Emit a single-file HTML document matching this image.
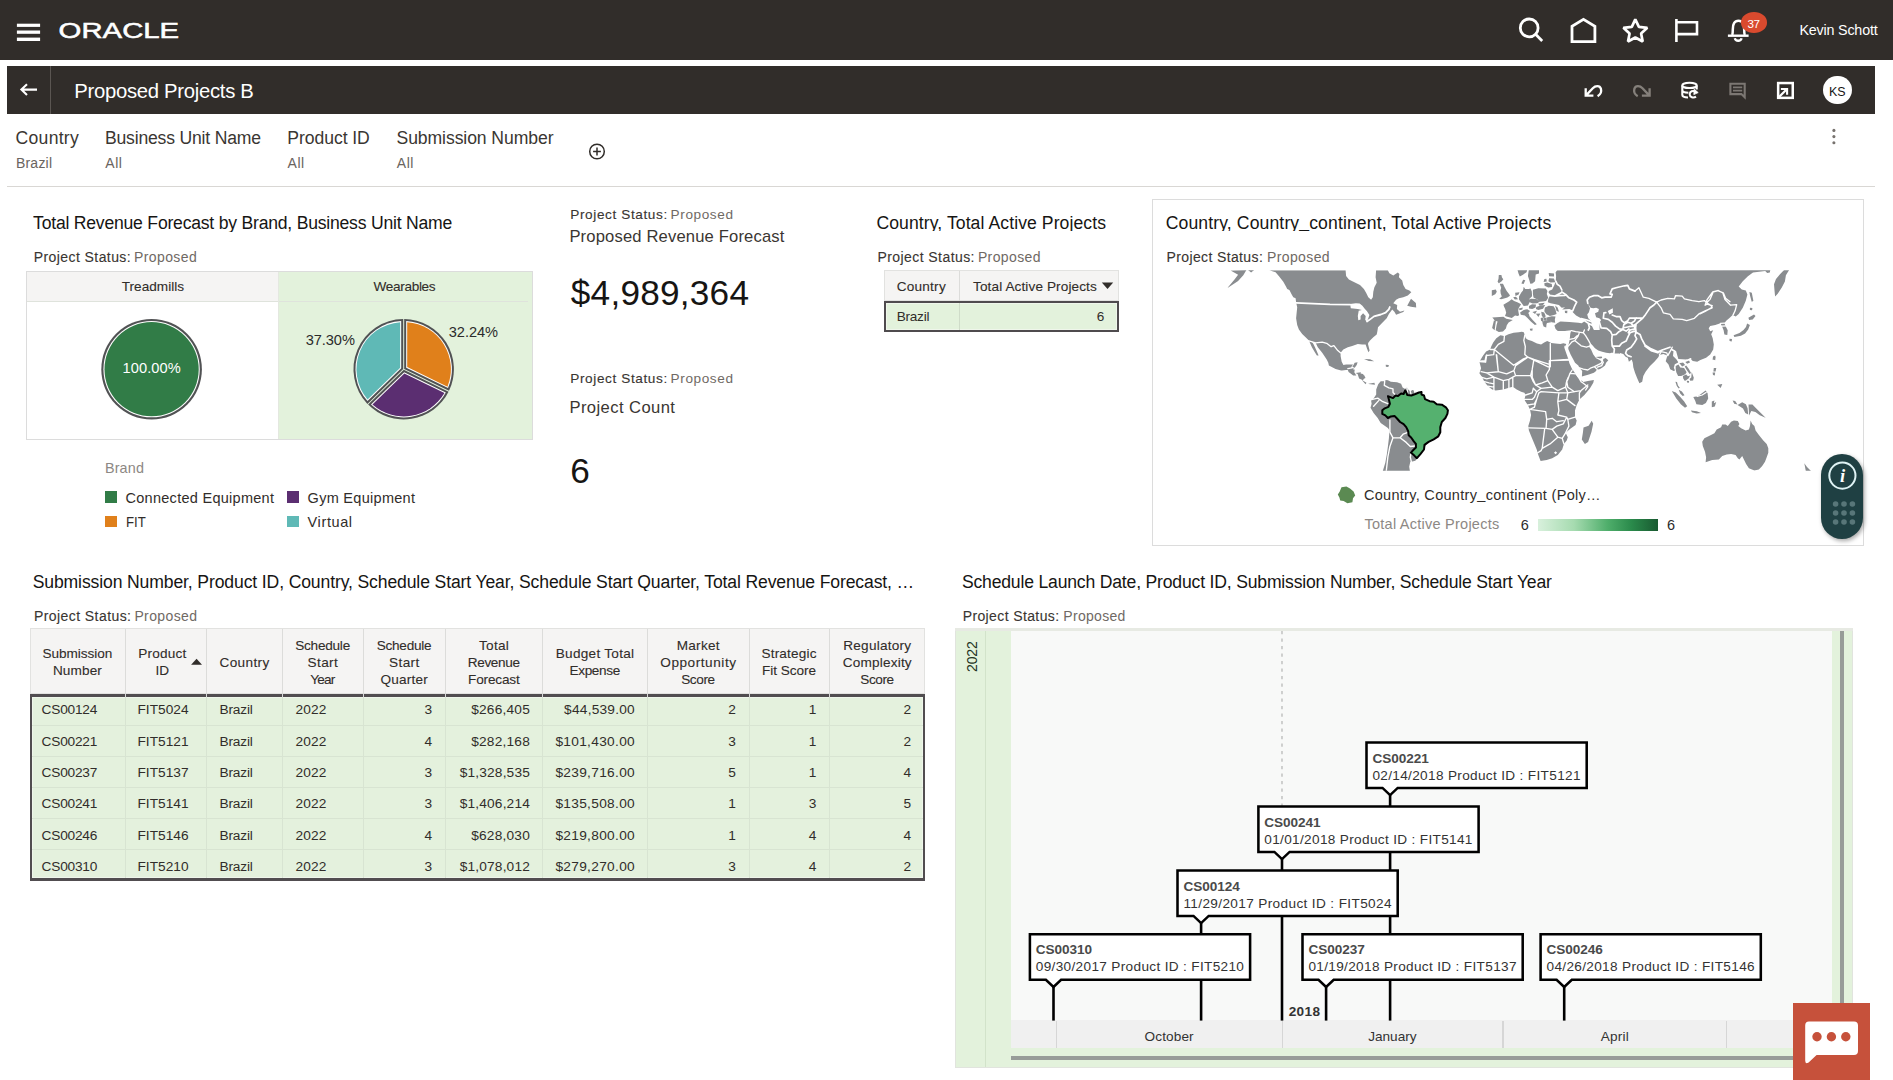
<!DOCTYPE html>
<html lang="en"><head><meta charset="utf-8"><title>Proposed Projects B</title>
<style>
html,body{margin:0;padding:0}body{width:1893px;height:1080px;position:relative;overflow:hidden;background:#fff;font-family:"Liberation Sans", sans-serif;}
body>div,body>svg,body>span{position:absolute;display:block}
span.t{white-space:nowrap;line-height:normal;}
</style></head>
<body>
<div class="topbar" style="left:0px;top:0px;width:1893px;height:59.5px;background:#312d2a;"></div>
<svg style="left:16px;top:22px" width="26" height="22" viewBox="16 22 26 22"><g fill="#fff"><rect x="16.9" y="23.7" width="23.2" height="3.2"/><rect x="16.9" y="30.5" width="23.2" height="3.3"/><rect x="16.9" y="37.6" width="23.2" height="3.4"/></g></svg>
<svg style="left:55px;top:18px" width="130" height="26" viewBox="55 18 130 26"><text x="58.6" y="38.1" font-family='"Liberation Sans",sans-serif' font-size="21.2" font-weight="400" fill="#fff" stroke="#fff" stroke-width="0.5" textLength="120.6" lengthAdjust="spacingAndGlyphs">ORACLE</text></svg>
<svg style="left:1510px;top:8px" width="270" height="44" viewBox="1510 8 270 44" fill="none" stroke="#fff" stroke-width="2.8"><circle cx="1529.2" cy="27.9" r="8.9"/><path d="M1535.6 34.3 L1542.2 40.9" stroke-linecap="butt"/><path d="M1572 41.7 V26.4 L1583.45 19.3 L1594.9 26.4 V41.7 Z" stroke-linejoin="miter"/><polygon points="1635.3,19.4 1638.9,26.8 1647.3,27.8 1641.1,33.4 1642.7,41.5 1635.3,37.5 1628.0,41.5 1629.6,33.4 1623.4,27.8 1631.8,26.8" stroke-linejoin="bevel" stroke-width="2.7"/><path d="M1676.4 18.9 V42 M1676.4 22.3 H1697 V34.1 H1676.4" stroke-width="2.6"/><path d="M1727.9 35.7 H1748.6" stroke-width="2.4"/><path d="M1732.2 35 C1733.6 31 1731.8 26.4 1734 23.2 C1736 20 1741 20 1743 23.2 C1745.2 26.4 1743.4 31 1744.8 35" stroke-width="2.5"/><path d="M1734.8 38.2 C1735.6 41.6 1740.8 41.6 1741.6 38.2" stroke-width="2.3"/></svg>
<div class="badge" style="left:1740.9px;top:12.4px;width:26.3px;height:20.8px;background:#d94a2e;border-radius:50%;"></div>
<span class="t" style="font-size:11.6px;color:#fff;letter-spacing:-0.506px;left:1747.60px;top:17.00px;">37</span>
<span class="t" style="font-size:14.3px;color:#fff;letter-spacing:-0.180px;left:1799.40px;top:21.90px;">Kevin Schott</span>
<div class="bar2" style="left:7px;top:66px;width:1868px;height:47.7px;background:#312d2a;"></div>
<div style="left:50px;top:66px;width:1px;height:47.7px;background:#5b5652;"></div>
<svg style="left:18px;top:80px" width="22" height="20" viewBox="18 80 22 20" fill="none" stroke="#fff" stroke-width="2.1"><path d="M21.6 89.6 H37 M27 84.2 L21.4 89.6 L27 95"/></svg>
<span class="t" style="font-size:20.3px;color:#fff;letter-spacing:-0.294px;left:74.30px;top:79.60px;">Proposed Projects B</span>
<svg style="left:1575px;top:72px" width="230" height="36" viewBox="1575 72 230 36" fill="none" stroke="#fff" stroke-width="2.3"><path d="M1585.7 88.3 V95.7 H1593.4 M1586.3 95.1 L1592.8 88.2 C1595.4 85.4 1599.8 85.2 1600.9 88.6 C1601.7 91.6 1600.4 94.6 1597.6 96.2"/><path stroke="#85807b" d="M1649.6 88.3 V95.7 H1641.9 M1649 95.1 L1642.5 88.2 C1639.9 85.4 1635.5 85.2 1634.4 88.6 C1633.6 91.6 1634.9 94.6 1637.7 96.2"/><g stroke-width="2.1"><ellipse cx="1689.5" cy="85.4" rx="7.2" ry="2.6"/><path d="M1682.3 85.4 V94.8 C1682.3 96.6 1685 97.5 1688 97.5 M1696.7 85.4 V89.6 M1682.3 90 C1682.3 91.8 1685 92.7 1688.4 92.7"/><path d="M1696 96.6 C1693.4 98.6 1689.7 97 1689.7 94.2 C1689.7 91.4 1693 90 1695.4 91.6" stroke-width="2"/><path d="M1694.2 89.2 L1698.2 92.6 L1693.8 94.6 Z" fill="#fff" stroke-width="0.8"/></g><g stroke="#7c7773" stroke-width="2.1"><path d="M1730.4 83.8 H1744.7 V97.2 L1741.4 94.1 H1730.4 Z"/><path d="M1733 87.3 H1742.2 M1733 90.6 H1742.2" stroke-width="1.7"/></g><rect x="1778.15" y="83.05" width="14.6" height="14.8" stroke-width="2.5"/><path d="M1779 97 L1787 89" stroke-width="2.3"/><path d="M1780.9 88.95 H1787.1 V94.8" stroke-width="2.1"/></svg>
<div class="avatar" style="left:1823.2px;top:76px;width:28.4px;height:28.4px;background:#fff;border-radius:50%;"></div>
<span class="t" style="font-size:13.7px;color:#161513;left:1829.00px;top:83.50px;transform:scaleX(0.9088);transform-origin:0 0;">KS</span>
<span class="t" style="font-size:17.6px;color:#3a3632;letter-spacing:0.265px;left:15.60px;top:127.70px;">Country</span>
<span class="t" style="font-size:14px;color:#6a6460;letter-spacing:0.237px;left:15.90px;top:154.50px;">Brazil</span>
<span class="t" style="font-size:17.6px;color:#3a3632;letter-spacing:-0.199px;left:105.00px;top:127.70px;">Business Unit Name</span>
<span class="t" style="font-size:14px;color:#6a6460;letter-spacing:0.519px;left:105.30px;top:154.50px;">All</span>
<span class="t" style="font-size:17.6px;color:#3a3632;letter-spacing:-0.069px;left:287.30px;top:127.70px;">Product ID</span>
<span class="t" style="font-size:14px;color:#6a6460;letter-spacing:0.519px;left:287.60px;top:154.50px;">All</span>
<span class="t" style="font-size:17.6px;color:#3a3632;letter-spacing:-0.088px;left:396.50px;top:127.70px;">Submission Number</span>
<span class="t" style="font-size:14px;color:#6a6460;letter-spacing:0.519px;left:396.80px;top:154.50px;">All</span>
<svg style="left:587px;top:141px" width="20" height="20" viewBox="587 141 20 20" fill="none" stroke="#312d2a" stroke-width="1.5"><circle cx="597" cy="151.5" r="7.3"/><path d="M597 147.6 V155.4 M593.1 151.5 H600.9"/></svg>
<svg style="left:1830px;top:126px" width="8" height="22" viewBox="1830 126 8 22" fill="#77726e"><circle cx="1833.9" cy="130.4" r="1.55"/><circle cx="1833.9" cy="136.6" r="1.55"/><circle cx="1833.9" cy="142.8" r="1.55"/></svg>
<div style="left:7px;top:186px;width:1868px;height:1px;background:#d9d7d4;"></div>
<span class="t" style="font-size:17.6px;color:#161513;letter-spacing:-0.222px;left:33.10px;top:213.00px;overflow:hidden;height:18.80px;">Total Revenue Forecast by Brand, Business Unit Name</span>
<span class="t" style="font-size:14px;color:#3a3632;letter-spacing:0.425px;left:33.70px;top:249.00px;-webkit-text-stroke:0.12px #3a3632;">Project Status:</span>
<span class="t" style="font-size:14px;color:#6f6964;letter-spacing:0.380px;left:134.10px;top:249.00px;">Proposed</span>
<div style="left:26.3px;top:270.5px;width:506.5px;height:169px;background:#fff;border:1px solid #dcdcdc;box-sizing:border-box;"></div>
<div style="left:27.3px;top:271.5px;width:250.7px;height:29.5px;background:#f5f4f3;"></div>
<div style="left:278px;top:271.5px;width:253.8px;height:167px;background:#e3f2dc;"></div>
<div style="left:27.3px;top:301px;width:500.5px;height:1px;background:#dfe3dc;"></div>
<div style="left:278px;top:271.5px;width:1px;height:167px;background:#e4e8e0;"></div>
<span class="t" style="font-size:13.6px;color:#312d2a;letter-spacing:0.024px;left:121.70px;top:278.90px;-webkit-text-stroke:0.1px #312d2a;">Treadmills</span>
<span class="t" style="font-size:13.6px;color:#312d2a;letter-spacing:-0.342px;left:373.60px;top:278.90px;-webkit-text-stroke:0.1px #312d2a;">Wearables</span>
<svg style="left:90px;top:310px" width="380" height="120" viewBox="90 310 380 120"><circle cx="151.6" cy="369.2" r="50.3" fill="#515254"/><circle cx="151.6" cy="369.2" r="48.15" fill="#fff"/><circle cx="151.6" cy="369.2" r="47.1" fill="#317c47"/><path d="M404.20 368.89 L404.20 319.00 A50.20 50.20 0 0 1 449.01 390.80 Z" fill="#515254"/><path d="M406.20 367.64 L406.20 321.06 A48.20 48.20 0 0 1 448.04 388.10 Z" fill="#fff"/><path d="M407.20 367.02 L407.20 322.13 A47.20 47.20 0 0 1 447.52 386.73 Z" fill="#e0801b"/><path d="M403.80 369.80 L448.57 391.70 A50.20 50.20 0 0 1 368.11 404.60 Z" fill="#515254"/><path d="M404.18 372.22 L445.84 392.59 A48.20 48.20 0 0 1 370.98 404.60 Z" fill="#fff"/><path d="M404.38 373.43 L444.45 393.02 A47.20 47.20 0 0 1 372.44 404.57 Z" fill="#5b2e71"/><path d="M403.20 368.99 L367.41 403.89 A50.20 50.20 0 0 1 403.20 319.00 Z" fill="#515254"/><path d="M401.20 368.15 L367.49 401.02 A48.20 48.20 0 0 1 401.20 321.06 Z" fill="#fff"/><path d="M400.20 367.72 L367.56 399.56 A47.20 47.20 0 0 1 400.20 322.13 Z" fill="#5fb9b6"/></svg>
<span class="t" style="font-size:14.6px;color:#fff;letter-spacing:0.096px;left:122.50px;top:360.00px;">100.00%</span>
<span class="t" style="font-size:14.6px;color:#2b2b2b;letter-spacing:-0.060px;left:305.70px;top:332.00px;">37.30%</span>
<span class="t" style="font-size:14.6px;color:#2b2b2b;letter-spacing:-0.060px;left:448.80px;top:324.00px;">32.24%</span>
<span class="t" style="font-size:14.4px;color:#8d8884;letter-spacing:0.148px;left:104.90px;top:460.40px;">Brand</span>
<div style="left:104.9px;top:491.4px;width:12px;height:11.8px;background:#317c47;"></div>
<span class="t" style="font-size:14.5px;color:#312d2a;letter-spacing:0.278px;left:125.50px;top:490.20px;">Connected Equipment</span>
<div style="left:287px;top:491.4px;width:12px;height:11.8px;background:#5b2e71;"></div>
<span class="t" style="font-size:14.5px;color:#312d2a;letter-spacing:0.286px;left:307.60px;top:490.20px;">Gym Equipment</span>
<div style="left:104.9px;top:515.6px;width:12px;height:11.8px;background:#e0801b;"></div>
<span class="t" style="font-size:14.5px;color:#312d2a;left:125.50px;top:514.40px;transform:scaleX(0.9103);transform-origin:0 0;">FIT</span>
<div style="left:287px;top:515.6px;width:12px;height:11.8px;background:#5fb9b6;"></div>
<span class="t" style="font-size:14.5px;color:#312d2a;letter-spacing:0.609px;left:307.60px;top:514.40px;">Virtual</span>
<span class="t" style="font-size:13.6px;color:#3a3632;letter-spacing:0.607px;left:570.30px;top:206.90px;-webkit-text-stroke:0.12px #3a3632;">Project Status:</span>
<span class="t" style="font-size:13.6px;color:#6f6964;letter-spacing:0.600px;left:670.60px;top:206.90px;">Proposed</span>
<span class="t" style="font-size:16.6px;color:#3a3632;letter-spacing:0.157px;left:569.40px;top:226.70px;">Proposed Revenue Forecast</span>
<span class="t" style="font-size:35.2px;color:#161513;letter-spacing:0.232px;left:570.80px;top:273.00px;">$4,989,364</span>
<span class="t" style="font-size:13.6px;color:#3a3632;letter-spacing:0.607px;left:570.30px;top:370.80px;-webkit-text-stroke:0.12px #3a3632;">Project Status:</span>
<span class="t" style="font-size:13.6px;color:#6f6964;letter-spacing:0.600px;left:670.60px;top:370.80px;">Proposed</span>
<span class="t" style="font-size:16.6px;color:#3a3632;letter-spacing:0.421px;left:569.40px;top:397.50px;">Project Count</span>
<span class="t" style="font-size:35.2px;color:#161513;left:570.30px;top:451.30px;">6</span>
<span class="t" style="font-size:17.6px;color:#161513;letter-spacing:0.083px;left:876.40px;top:212.50px;overflow:hidden;height:18.80px;">Country, Total Active Projects</span>
<span class="t" style="font-size:14px;color:#3a3632;letter-spacing:0.425px;left:877.50px;top:248.80px;-webkit-text-stroke:0.12px #3a3632;">Project Status:</span>
<span class="t" style="font-size:14px;color:#6f6964;letter-spacing:0.380px;left:977.90px;top:248.80px;">Proposed</span>
<div style="left:883.5px;top:270.4px;width:235px;height:31px;background:#f5f4f3;border:1px solid #e2e2e0;box-sizing:border-box;"></div>
<div style="left:959px;top:271px;width:1px;height:30px;background:#dcdcda;"></div>
<span class="t" style="font-size:13.6px;color:#312d2a;letter-spacing:0.232px;left:896.70px;top:278.60px;-webkit-text-stroke:0.1px #312d2a;">Country</span>
<span class="t" style="font-size:13.6px;color:#312d2a;letter-spacing:0.108px;left:973.00px;top:278.60px;-webkit-text-stroke:0.1px #312d2a;">Total Active Projects</span>
<svg style="left:1100px;top:280px" width="16" height="12" viewBox="1100 280 16 12"><path d="M1101.8 282.4 H1113.2 L1107.5 289 Z" fill="#312d2a"/></svg>
<div style="left:883.6px;top:301.2px;width:235px;height:30.6px;background:#e3f2dc;border:2px solid #4f4b4e;box-sizing:border-box;box-shadow:inset 0 0 0 1px #eff6eb;"></div>
<div style="left:958.6px;top:303.2px;width:1px;height:26.6px;background:#cfdcc9;"></div>
<span class="t" style="font-size:13.6px;color:#312d2a;letter-spacing:-0.240px;left:896.70px;top:308.50px;">Brazil</span>
<span class="t" style="font-size:13.6px;color:#312d2a;left:1096.64px;top:308.50px;">6</span>
<div class="mapcard" style="left:1152px;top:199px;width:712px;height:347px;background:#fff;border:1px solid #dcdcdc;box-sizing:border-box;"></div>
<span class="t" style="font-size:17.6px;color:#161513;letter-spacing:0.119px;left:1165.70px;top:212.70px;overflow:hidden;height:18.80px;">Country, Country<span style="position:relative;top:-1.7px">_</span>continent, Total Active Projects</span>
<span class="t" style="font-size:14px;color:#3a3632;letter-spacing:0.368px;left:1166.60px;top:248.80px;-webkit-text-stroke:0.12px #3a3632;">Project Status:</span>
<span class="t" style="font-size:14px;color:#6f6964;letter-spacing:0.380px;left:1267.00px;top:248.80px;">Proposed</span>
<svg class="map" style="left:1220px;top:270px" width="600" height="202" viewBox="1220 270 600 202"><defs><clipPath id="mc"><rect x="1222" y="270.2" width="596" height="200.6"/></clipPath></defs><g clip-path="url(#mc)">
<path d="M1248.0 270.0 L1251.1 272.5 L1254.2 270.0Z M1517.5 269.9 L1518.5 273.5 L1519.8 276.4 L1523.0 274.8 L1526.5 272.2 L1527.2 269.9Z M1243.3 275.3 L1246.4 270.0 L1230.6 270.5 L1238.1 274.8 L1234.5 279.5 L1227.8 287.6 L1227.9 287.8 L1238.1 280.9Z M1501.4 274.9 L1498.8 274.9 L1498.5 278.8 L1497.6 281.7 L1498.8 283.3 L1501.4 281.4 L1503.3 279.2 L1502.0 277.6Z M1525.3 280.3 L1523.1 279.8 L1521.4 283.6 L1523.6 284.1Z M1501.1 299.3 L1504.0 298.4 L1507.4 297.6 L1510.0 295.7 L1509.2 294.2 L1506.7 290.9 L1504.5 287.0 L1503.0 283.8 L1499.7 283.8 L1501.2 287.8 L1500.4 290.5 L1500.7 293.4 L1501.8 296.5 L1499.2 298.8Z M1495.3 294.2 L1496.8 291.7 L1495.8 289.6 L1491.8 290.2 L1491.8 295.9Z M1519.5 292.3 L1515.1 292.7 L1515.5 295.9 L1518.6 294.5Z M1521.9 303.6 L1523.7 306.0 L1528.0 305.4 L1529.7 302.1 L1529.7 302.3 L1532.7 303.5 L1537.4 303.2 L1539.5 301.7 L1539.6 301.8 L1542.8 301.5 L1546.1 300.9 L1548.2 297.8 L1546.8 293.9 L1547.4 291.0 L1545.8 288.5 L1538.3 288.2 L1532.9 289.7 L1532.9 293.9 L1533.5 297.5 L1537.0 299.2 L1539.1 301.3 L1536.3 299.1 L1531.0 298.8 L1529.4 299.4 L1529.3 299.0 L1532.1 296.3 L1531.8 291.6 L1530.5 288.4 L1528.8 289.0 L1525.2 289.0 L1523.7 286.8 L1523.0 290.4 L1521.3 292.6 L1519.0 296.6 L1519.0 299.6 L1520.8 301.9Z M1516.0 296.8 L1513.2 297.2 L1514.8 299.6 L1518.0 299.2Z M1416.2 307.5 L1415.9 303.1 L1411.0 298.8 L1407.2 305.8 L1411.0 306.7Z M1511.8 317.9 L1515.1 315.4 L1517.6 316.0 L1519.1 315.2 L1518.2 310.6 L1518.7 307.9 L1521.1 304.3 L1517.9 302.4 L1514.1 301.0 L1511.6 299.2 L1509.2 301.3 L1503.4 304.8 L1504.1 306.8 L1505.2 309.0 L1506.2 312.8 L1505.0 316.1 L1508.2 317.1Z M1522.3 309.5 L1522.8 307.5 L1518.9 308.6 L1519.5 310.2Z M1536.8 324.3 L1532.5 319.7 L1529.3 316.0 L1529.3 314.9 L1528.3 312.9 L1530.1 311.0 L1527.3 309.3 L1523.7 309.9 L1520.1 312.6 L1520.8 314.8 L1524.8 315.4 L1527.5 318.1 L1530.8 321.4 L1534.9 325.0Z M1291.7 294.4 L1293.3 297.2 L1295.6 298.3 L1296.1 302.2 L1297.2 307.2 L1296.1 318.3 L1297.2 325.0 L1298.9 329.4 L1302.2 333.9 L1305.6 337.2 L1308.9 340.6 L1308.9 340.6 L1311.9 347.2 L1315.0 352.5 L1316.9 355.6 L1318.6 355.6 L1316.7 351.1 L1313.9 345.0 L1312.5 342.5 L1310.3 341.0 L1312.2 341.7 L1315.6 342.8 L1317.8 347.2 L1322.2 352.8 L1326.7 359.4 L1328.3 362.8 L1328.9 365.6 L1335.6 368.9 L1341.1 370.6 L1341.9 370.5 L1342.0 370.5 L1346.0 370.0 L1347.8 370.0 L1348.6 371.9 L1351.6 374.2 L1351.6 374.2 L1351.6 374.2 L1353.2 375.4 L1356.3 375.4 L1354.3 372.2 L1354.8 369.6 L1353.2 369.9 L1354.4 368.3 L1356.7 365.0 L1357.6 362.3 L1354.7 362.8 L1352.0 367.4 L1350.9 367.7 L1353.0 364.6 L1346.1 364.6 L1343.4 365.1 L1341.7 361.7 L1340.6 356.1 L1340.6 352.8 L1343.3 349.4 L1347.8 347.2 L1352.2 346.1 L1357.8 343.9 L1362.2 344.4 L1365.6 344.6 L1366.9 348.3 L1368.4 352.3 L1369.6 350.6 L1368.0 344.1 L1368.3 342.8 L1370.0 340.6 L1373.3 337.2 L1376.7 334.4 L1377.3 331.7 L1378.0 327.2 L1381.1 323.9 L1383.3 321.7 L1386.7 318.3 L1388.9 313.9 L1392.2 309.4 L1394.4 311.7 L1396.1 314.7 L1403.3 311.9 L1404.4 310.6 L1400.0 311.7 L1396.9 308.9 L1397.2 305.0 L1393.3 303.3 L1396.1 299.7 L1398.9 298.3 L1403.3 297.2 L1407.8 295.6 L1411.3 292.2 L1409.4 290.6 L1405.6 288.9 L1403.3 285.0 L1402.2 280.6 L1398.9 277.2 L1399.4 273.9 L1397.8 272.6 L1393.3 275.6 L1389.4 273.3 L1387.8 270.2 L1376.1 270.2 L1375.6 277.2 L1376.7 282.8 L1374.4 287.2 L1373.3 291.7 L1372.8 297.2 L1371.1 299.7 L1368.3 297.2 L1366.1 292.8 L1363.9 288.9 L1360.0 285.0 L1354.4 282.2 L1348.9 279.4 L1346.1 276.1 L1345.6 270.2 L1269.4 270.2 L1275.6 272.2 L1279.4 276.7 L1283.3 281.7 L1286.1 286.7 L1287.2 288.9 L1289.4 290.0Z M1503.0 331.5 L1505.9 328.5 L1506.8 325.2 L1508.6 322.5 L1512.8 320.1 L1506.3 318.8 L1503.4 316.8 L1492.3 317.4 L1493.6 319.1 L1495.0 320.9 L1493.9 320.6 L1492.1 327.9 L1494.6 330.3 L1495.9 321.1 L1497.6 321.4 L1496.6 324.9 L1495.7 330.2 L1498.8 332.1Z M1532.7 328.4 L1529.8 328.8 L1530.2 330.5 L1532.3 330.7Z M1364.2 358.9 L1364.1 359.1 L1368.8 361.0 L1374.2 361.3 L1374.2 361.3 L1370.1 359.3Z M1388.9 365.1 L1385.7 364.8 L1385.9 366.7 L1388.3 367.0Z M1364.2 375.3 L1363.8 375.3 L1363.0 374.1 L1360.6 373.5 L1360.9 372.2 L1355.5 372.9 L1357.6 374.0 L1359.1 378.6 L1362.9 380.2 L1363.9 378.7 L1365.5 377.9Z M1365.5 384.2 L1366.5 382.7 L1361.9 379.9 L1361.8 380.1Z M1374.4 382.7 L1368.5 383.8 L1368.6 384.0 L1375.0 384.8Z M1377.7 418.0 L1380.7 423.0 L1387.9 428.1 L1389.5 430.2 L1388.9 438.3 L1387.9 446.5 L1386.8 454.6 L1385.3 462.8 L1382.8 470.9 L1409.9 470.9 L1409.2 466.8 L1410.3 461.7 L1411.3 461.7 L1415.4 460.7 L1416.9 458.2 L1420.4 454.1 L1431.6 436.3 L1431.6 405.7 L1421.5 395.5 L1415.9 393.0 L1414.3 390.5 L1412.3 389.9 L1410.3 391.5 L1408.2 389.4 L1406.7 386.9 L1405.2 388.9 L1402.6 387.4 L1401.1 383.8 L1397.0 382.3 L1390.9 381.8 L1387.9 380.3 L1385.3 380.1 L1383.8 381.3 L1380.7 381.3 L1378.2 384.3 L1376.2 389.4 L1376.2 394.5 L1373.6 398.6 L1371.1 400.6 L1371.6 403.7 L1370.5 407.8 L1373.6 412.9Z M1554.0 276.5 L1554.0 273.5 L1548.7 272.9 L1549.1 276.2Z M1539.0 273.6 L1539.0 269.9 L1528.8 269.9 L1527.9 276.1 L1529.1 279.6 L1530.3 283.8 L1532.4 283.4 L1535.1 281.3 L1535.7 274.5Z M1546.4 278.7 L1544.4 279.1 L1543.6 281.9 L1546.8 281.5Z M1548.4 281.3 L1550.4 282.6 L1555.3 282.3 L1553.9 278.5 L1549.1 278.2Z M1544.3 283.3 L1544.6 285.8 L1548.3 287.6 L1552.1 287.0 L1551.8 283.9 L1547.2 282.6Z M1544.8 302.8 L1538.3 303.6 L1539.2 305.4 L1543.0 305.1Z M1529.0 305.9 L1529.0 308.4 L1532.3 309.0 L1535.6 307.5 L1536.0 304.6 L1532.1 304.3Z M1535.9 309.1 L1538.3 310.1 L1543.0 308.7 L1545.2 305.1 L1540.5 305.4 L1536.3 306.9Z M1557.6 307.5 L1555.1 305.6 L1556.6 310.9 L1559.0 311.8Z M1555.4 309.3 L1553.6 306.3 L1548.8 305.7 L1544.9 307.5 L1544.3 311.2 L1546.4 314.2 L1549.9 316.0 L1554.0 315.1 L1556.6 314.1Z M1567.4 310.8 L1564.8 310.7 L1565.0 313.0 L1567.2 313.2Z M1548.6 292.8 L1550.0 294.2 L1549.4 296.7 L1548.3 298.9 L1547.8 302.2 L1550.6 303.3 L1554.4 303.9 L1558.9 305.0 L1561.7 307.8 L1565.0 307.2 L1562.2 309.4 L1569.4 308.9 L1572.8 310.6 L1572.8 312.2 L1576.1 315.6 L1581.1 318.3 L1586.1 320.6 L1585.0 321.1 L1581.7 323.3 L1578.3 322.8 L1569.4 321.9 L1560.6 321.4 L1555.0 323.3 L1560.0 321.7 L1557.2 323.3 L1554.4 325.6 L1555.6 328.9 L1557.8 331.1 L1561.7 331.1 L1565.0 331.1 L1566.6 330.7 L1571.3 330.2 L1570.3 333.6 L1569.7 339.4 L1568.3 346.1 L1568.3 348.9 L1570.6 354.4 L1573.3 359.4 L1575.0 362.8 L1578.3 365.6 L1579.4 367.8 L1582.2 371.1 L1581.9 376.4 L1584.4 375.7 L1588.9 374.4 L1593.9 372.8 L1596.1 371.1 L1596.9 368.9 L1598.3 369.6 L1600.0 368.9 L1602.8 367.2 L1605.0 365.6 L1606.1 362.8 L1608.3 360.3 L1605.6 358.1 L1603.3 358.9 L1603.1 360.3 L1603.3 362.2 L1601.9 361.7 L1600.0 360.3 L1596.1 358.3 L1593.3 354.4 L1591.1 349.4 L1588.9 346.4 L1590.0 343.3 L1590.0 342.8 L1592.2 345.0 L1595.0 348.3 L1598.3 350.6 L1602.2 351.7 L1606.1 352.8 L1610.0 353.3 L1611.4 352.8 L1613.2 352.8 L1613.9 353.6 L1619.4 353.6 L1620.0 354.1 L1620.0 352.9 L1623.3 353.9 L1625.6 356.7 L1627.8 357.8 L1628.9 361.7 L1631.7 359.4 L1632.8 362.8 L1633.3 367.2 L1635.0 372.8 L1637.2 378.3 L1639.4 383.3 L1642.2 381.7 L1643.3 376.1 L1645.6 371.7 L1650.0 366.1 L1654.4 361.7 L1658.3 357.2 L1659.4 355.0 L1663.3 353.9 L1667.4 355.4 L1665.7 361.2 L1668.5 364.6 L1670.2 369.2 L1673.6 370.9 L1675.0 370.6 L1673.8 367.7 L1674.8 364.2 L1678.2 362.4 L1677.6 358.7 L1674.3 355.4 L1674.9 350.9 L1673.7 350.2 L1676.1 351.1 L1678.3 358.9 L1686.1 359.4 L1690.6 358.9 L1692.8 361.1 L1697.2 361.7 L1700.4 360.1 L1706.1 357.7 L1710.2 354.6 L1713.2 349.5 L1713.8 344.5 L1712.7 338.3 L1711.2 334.3 L1713.2 330.2 L1710.2 331.2 L1708.7 328.2 L1710.2 326.1 L1715.3 325.1 L1720.4 323.3 L1721.9 326.1 L1723.6 330.2 L1724.4 334.5 L1727.3 335.1 L1727.7 330.2 L1725.5 326.1 L1724.4 323.1 L1726.5 320.5 L1729.5 318.0 L1732.6 314.9 L1735.7 316.4 L1738.7 313.9 L1742.8 307.8 L1745.8 300.7 L1747.4 294.5 L1745.8 290.5 L1741.8 289.4 L1738.7 286.4 L1742.8 281.3 L1747.9 276.2 L1753.0 272.6 L1765.2 271.1 L1767.2 273.1 L1769.8 272.6 L1770.3 270.1 L1620.0 270.2 L1620.0 270.1 L1557.2 270.3 L1555.6 272.2 L1556.1 276.1 L1555.8 281.1 L1554.4 285.0 L1552.2 289.4 L1548.9 291.1Z M1532.4 312.1 L1535.1 313.9 L1537.0 310.7Z M1546.5 317.6 L1544.3 317.9 L1545.7 316.2 L1544.2 312.4 L1541.2 311.7 L1541.8 315.7 L1543.5 318.0 L1543.5 318.0 L1543.5 320.7 L1546.5 320.4Z M1535.9 313.8 L1538.4 317.1 L1540.4 313.4Z M1546.8 320.3 L1547.8 320.5 L1546.6 320.4 L1543.2 321.2 L1542.9 317.6 L1540.7 318.0 L1541.0 320.8 L1542.3 321.4 L1542.7 324.0 L1543.6 326.4 L1546.2 327.5 L1546.5 324.3 L1547.0 323.1 L1551.1 322.2 L1550.6 320.8 L1550.8 320.8 L1551.4 322.3 L1555.2 322.7 L1554.8 319.7 L1555.5 316.6 L1551.6 316.3 L1546.8 317.5Z M1600.0 358.5 L1602.2 358.1 L1601.7 356.5 L1595.5 357.0 L1595.5 357.0Z M1675.4 381.7 L1676.8 386.1 L1678.7 388.6 L1679.8 387.7 L1678.0 385.4 L1677.0 382.0Z M1568.3 358.9 L1566.7 354.4 L1564.6 348.6 L1563.8 345.1 L1564.9 346.8 L1566.3 344.0 L1563.3 343.2 L1560.4 343.9 L1555.4 343.4 L1551.3 342.9 L1547.2 340.9 L1544.2 342.4 L1541.1 344.4 L1537.0 343.4 L1531.9 340.9 L1527.9 339.8 L1525.8 338.3 L1524.8 335.3 L1523.8 332.2 L1521.8 331.7 L1518.7 332.2 L1513.6 332.7 L1508.5 334.2 L1504.4 336.3 L1502.9 335.8 L1500.4 335.3 L1496.3 338.3 L1493.2 342.4 L1491.2 346.5 L1490.2 349.5 L1486.1 351.6 L1483.1 355.6 L1480.0 360.7 L1479.4 361.7 L1481.1 368.3 L1479.4 373.3 L1482.2 377.2 L1484.4 381.7 L1487.8 386.1 L1492.2 389.4 L1495.6 390.6 L1503.3 389.4 L1508.9 387.8 L1512.8 386.7 L1516.7 389.4 L1521.1 391.7 L1524.4 392.8 L1525.6 395.0 L1524.4 399.4 L1525.6 401.7 L1527.8 405.0 L1530.0 409.4 L1531.1 415.0 L1530.0 420.6 L1528.3 426.1 L1528.9 430.6 L1531.1 436.1 L1533.9 442.8 L1536.7 449.4 L1538.3 455.0 L1540.6 461.1 L1546.7 460.0 L1552.2 458.3 L1557.8 455.0 L1562.2 449.4 L1563.9 443.9 L1566.7 440.6 L1567.8 437.2 L1565.6 432.8 L1570.0 428.9 L1575.6 425.0 L1576.7 420.6 L1575.0 417.2 L1575.0 410.6 L1576.7 405.0 L1579.4 399.4 L1584.4 395.0 L1590.0 388.3 L1593.3 382.8 L1593.9 380.0 L1587.8 381.1 L1583.3 381.9 L1581.1 380.0 L1577.8 377.2 L1574.4 372.2 L1571.7 368.3 L1569.4 363.3Z M1680.3 396.9 L1675.8 392.4 L1671.8 390.9 L1676.3 398.6 L1680.8 404.2 L1685.0 407.7 L1687.2 406.2 L1684.2 401.4Z M1591.5 431.8 L1593.2 423.8 L1591.7 420.8 L1588.6 425.8 L1583.5 427.5 L1582.9 432.7 L1581.8 439.5 L1584.9 443.9 L1588.1 441.9Z M1777.7 293.8 L1781.8 287.6 L1784.9 281.4 L1785.9 275.3 L1789.3 269.7 L1784.4 269.7 L1780.2 273.9 L1776.0 279.1 L1774.0 284.3 L1774.5 290.5 L1775.1 296.4Z M1751.7 301.7 L1753.4 300.9 L1751.8 292.7 L1749.4 291.9 L1750.0 295.6Z M1752.4 308.0 L1749.9 307.7 L1749.9 310.0 L1752.1 310.3Z M1749.1 319.9 L1752.7 319.4 L1755.5 315.9 L1754.0 314.4 L1748.4 317.8Z M1745.1 333.6 L1748.2 329.4 L1749.9 324.9 L1747.1 323.5 L1746.0 326.9 L1743.5 329.9 L1739.5 332.9 L1733.6 335.3 L1734.4 337.0 L1740.9 335.7Z M1731.7 341.4 L1732.0 339.0 L1729.5 338.7 L1729.5 341.1Z M1715.2 355.5 L1713.0 356.4 L1712.6 359.8 L1713.9 359.8 L1715.2 360.3 L1715.7 356.6 L1715.1 356.4Z M1688.5 359.5 L1684.3 360.9 L1687.1 363.8 L1690.0 362.4Z M1682.9 362.3 L1679.3 363.1 L1682.1 366.6 L1685.1 365.1Z M1715.6 371.5 L1716.3 367.9 L1713.8 367.9 L1713.4 371.5Z M1684.7 366.5 L1686.9 370.2 L1689.6 373.9 L1691.1 372.9 L1688.7 368.7 L1686.2 365.6Z M1684.1 368.0 L1680.2 367.4 L1678.5 364.5 L1675.7 365.9 L1675.7 368.9 L1676.3 372.3 L1678.1 376.0 L1681.2 376.0 L1685.3 374.2 L1686.6 372.2Z M1714.8 375.5 L1715.2 372.4 L1712.6 372.4 L1713.0 375.0Z M1691.3 377.6 L1689.5 379.1 L1690.3 380.7 L1693.1 380.4 L1693.8 377.8 L1691.7 372.0Z M1682.9 375.9 L1683.2 378.5 L1684.9 381.1 L1688.6 378.6 L1690.2 375.4 L1687.9 376.2 L1686.2 374.5Z M1688.9 382.7 L1689.1 380.9 L1686.8 380.7 L1687.0 382.5Z M1717.2 384.7 L1720.7 387.9 L1722.3 383.9Z M1680.2 393.6 L1682.7 396.0 L1684.5 395.2 L1681.9 391.4 L1678.7 389.7Z M1705.6 390.6 L1700.9 394.1 L1697.6 396.3 L1693.3 396.9 L1695.2 400.7 L1696.4 404.3 L1702.3 404.9 L1705.9 403.1 L1708.2 398.4 L1707.6 393.2Z M1735.2 401.1 L1732.6 400.6 L1734.2 403.8 L1737.5 404.5Z M1711.8 401.4 L1711.8 407.2 L1714.8 406.4 L1716.2 402.0 L1713.9 403.2 L1714.4 400.5Z M1737.6 405.0 L1743.0 408.6 L1745.3 413.1 L1748.2 414.6 L1747.6 408.2 L1745.9 404.2 L1742.2 402.3Z M1760.3 412.5 L1755.8 408.1 L1752.4 404.6 L1748.5 404.6 L1749.1 415.4 L1751.3 411.0 L1755.4 412.0 L1759.8 415.3 L1765.5 417.8 L1765.6 417.8Z M1692.0 412.3 L1696.6 413.5 L1701.0 413.0 L1696.8 411.3 L1690.9 410.6Z M1722.2 456.1 L1726.7 454.4 L1731.1 453.9 L1735.6 455.0 L1737.8 458.3 L1739.4 459.4 L1742.2 456.1 L1744.4 460.6 L1746.1 463.9 L1748.9 468.3 L1754.4 470.6 L1758.9 469.4 L1762.2 466.1 L1765.0 461.7 L1766.7 457.2 L1768.3 452.8 L1768.3 448.3 L1766.7 443.9 L1763.3 440.6 L1758.9 435.0 L1755.6 430.6 L1754.4 426.1 L1752.2 423.9 L1750.6 420.6 L1750.0 426.1 L1748.9 429.4 L1745.6 430.6 L1741.1 428.3 L1738.3 426.1 L1739.4 423.9 L1737.8 421.1 L1733.9 420.6 L1731.1 421.7 L1727.8 426.1 L1725.6 424.4 L1722.2 424.4 L1721.1 427.2 L1716.7 429.4 L1714.4 433.3 L1710.0 435.6 L1704.4 438.3 L1702.2 441.7 L1702.8 446.1 L1705.0 451.7 L1706.1 457.2 L1705.6 462.2 L1712.2 460.0 L1718.9 459.4Z M1807.0 467.0 L1804.3 463.3 L1805.8 471.0 L1811.0 471.0Z" fill="#898c8f" fill-rule="evenodd"/>
<path d="M1349.9 303.9 L1355.9 303.3 L1359.6 303.4 L1362.4 305.7 L1364.5 308.5 L1361.9 310.0 L1357.8 309.1 L1350.8 308.3 L1350.4 305.7Z M1361.9 310.0 L1364.5 308.5 L1367.0 311.3 L1369.4 315.0 L1368.5 317.8 L1367.0 321.6 L1365.2 319.9 L1365.7 315.9 L1363.1 313.3 L1360.6 315.9 L1360.6 319.6 L1358.3 320.2 L1357.8 315.9 L1358.7 310.8Z M1555.6 451.2 L1557.1 452.8 L1555.6 454.3 L1554.0 452.8Z M1587.8 303.3 L1590.6 307.8 L1593.3 308.3 L1596.1 307.8 L1598.9 308.9 L1598.3 311.7 L1595.0 313.3 L1596.1 317.2 L1599.4 318.3 L1601.1 320.0 L1599.4 322.8 L1599.7 330.0 L1593.9 330.0 L1591.7 325.6 L1591.1 321.1 L1588.3 318.3 L1587.2 314.4 L1588.9 312.2 L1590.0 308.3Z M1607.8 311.1 L1612.8 308.3 L1612.9 312.8 L1609.4 314.4Z" fill="#fff"/>
<path d="M1296.1 302.8 L1330.0 304.3 L1350.1 304.7 M1555.8 281.1 L1557.2 284.2 L1560.0 286.1 L1561.9 290.0 M1561.8 291.9 L1562.2 292.2 M1562.2 292.2 L1555.0 296.1 M1565.0 295.4 L1559.4 295.7 L1555.0 296.1 L1549.4 295.4 M1562.2 292.2 L1565.6 294.4 L1568.9 297.8 L1573.9 300.0 L1576.7 302.2 L1574.4 306.7 L1572.8 310.6 M1587.8 303.3 L1587.2 300.0 L1589.4 297.2 L1593.9 295.6 L1597.8 295.6 L1601.7 297.8 L1605.0 297.2 L1611.1 297.2 L1612.2 294.4 L1610.0 293.9 L1612.2 288.9 L1616.1 287.8 L1624.4 285.8 L1627.8 285.3 L1629.4 288.9 L1635.0 291.1 M1581.1 318.6 L1586.1 319.7 L1591.1 321.4 M1585.0 321.1 L1588.3 323.3 L1589.4 327.8 L1588.3 330.0 M1588.3 323.3 L1591.7 325.0 M1603.9 312.8 L1605.8 312.7 M1612.2 315.0 L1616.7 316.7 L1620.0 316.7 L1621.7 320.6 L1624.4 322.8 L1627.8 320.6 L1629.4 318.1 L1636.1 317.8 L1642.8 318.1 L1645.6 314.4 L1647.8 311.1 L1650.0 307.8 L1653.9 305.0 L1656.7 302.2 M1603.9 313.3 L1603.3 318.3 L1608.3 319.4 L1612.2 322.2 L1615.6 326.1 L1619.4 328.9 L1622.8 329.4 M1599.4 322.2 L1601.1 327.8 L1606.7 328.3 L1610.6 331.7 L1612.2 335.0 L1616.1 334.4 L1618.9 331.7 L1622.8 329.4 M1622.8 329.4 L1623.9 324.4 L1627.8 322.2 L1631.1 323.3 L1634.4 321.1 L1636.1 317.8 M1631.1 323.3 L1633.3 325.6 L1636.1 323.9 M1623.9 327.8 L1628.9 326.7 L1634.4 326.1 L1635.0 328.9 L1630.0 330.0 L1628.3 332.8 M1612.2 335.0 L1611.7 340.0 L1612.2 346.1 L1619.4 346.1 L1621.7 343.3 L1626.1 341.1 L1628.3 336.1 L1630.0 332.8 L1634.4 331.1 L1636.1 332.2 M1622.8 329.4 L1626.1 331.1 L1628.9 328.9 M1612.2 346.1 L1614.4 348.9 L1613.9 353.3 L1612.2 355.6 M1636.1 332.2 L1635.0 335.6 L1636.7 338.9 L1634.4 342.8 L1631.1 347.2 L1626.7 350.0 L1625.6 353.3 L1627.8 355.6 L1631.1 356.7 M1642.8 318.1 L1636.1 323.9 L1635.6 327.8 L1636.1 332.2 L1640.0 334.4 L1641.7 338.9 L1645.0 345.0 L1651.1 348.9 L1657.8 351.7 L1662.2 350.0 L1670.0 347.2 M1645.0 346.1 L1651.1 350.6 L1657.8 352.8 L1662.2 350.0" fill="none" stroke="#fff" stroke-width="1.6875" stroke-linejoin="round" stroke-linecap="round"/>
<path d="M1367.0 321.5 L1369.8 319.6 L1374.0 316.4 L1380.9 314.5 L1385.6 312.7 L1388.8 309.4 L1389.8 307.0" fill="none" stroke="#fff" stroke-width="1.8225" stroke-linejoin="round" stroke-linecap="round"/>
<path d="M1308.9 340.8 L1315.6 342.8 L1322.2 342.2 L1326.7 343.3 L1331.1 346.7 L1333.9 345.6 L1337.8 350.6 L1340.4 352.8 M1384.8 380.3 L1384.3 385.4 L1388.9 387.9 L1393.0 388.9 L1393.0 392.5 L1395.0 394.5 M1371.6 399.6 L1377.7 398.1 L1382.8 401.7 L1387.9 403.7 M1373.6 406.2 L1378.7 400.6 M1389.9 420.0 L1389.9 432.2 L1393.0 437.8 L1400.1 437.8 L1403.1 434.2 L1407.2 432.7 M1400.1 437.8 L1406.2 442.4 L1410.3 446.5 L1414.8 446.0 M1393.0 437.8 L1389.9 446.5 L1387.9 456.6 L1386.3 470.9 M1411.3 451.6 L1410.3 457.2 L1411.3 461.7 M1550.3 343.4 L1550.3 360.7 L1569.6 360.2 M1524.8 335.3 L1523.8 340.4 L1525.3 346.5 L1524.8 354.6 L1527.9 357.2 L1534.0 360.2 L1548.2 366.8 L1550.3 366.8 L1550.3 360.7 M1504.4 336.3 L1503.9 341.4 L1498.3 344.4 L1494.3 349.5 M1494.3 349.5 L1513.6 365.3 L1522.8 359.2 L1527.9 357.2 M1490.2 349.5 L1494.3 349.5 L1493.7 354.6 L1486.1 355.6 L1485.1 360.7 L1480.0 361.2 M1496.3 354.6 L1498.3 371.9 L1486.1 372.9 M1479.4 361.7 L1485.6 362.2 L1486.7 355.0 M1496.7 355.0 L1498.3 371.7 L1486.7 372.8 L1481.1 371.7 M1498.3 371.7 L1506.7 373.9 L1513.9 370.6 L1515.6 365.6 L1527.8 357.2 M1527.8 357.2 L1533.9 359.4 L1532.2 369.4 L1530.6 375.6 L1515.6 375.6 L1513.9 370.6 M1533.9 359.4 L1549.4 364.4 L1549.4 369.4 L1546.1 375.0 L1547.8 380.6 L1542.2 382.8 L1535.6 385.0 L1532.2 377.2 L1532.2 369.4 M1549.4 360.6 L1568.9 360.0 M1549.4 360.6 L1549.4 364.4 M1547.8 380.6 L1552.2 387.2 L1557.8 390.6 L1565.6 387.2 L1566.7 381.1 L1568.3 377.2 M1566.7 381.1 L1567.8 387.2 L1574.4 391.7 L1581.1 390.6 L1587.8 385.0 M1579.4 399.4 L1579.4 392.8 L1581.1 390.6 M1567.8 392.8 L1574.4 391.7 M1565.6 387.2 L1567.8 392.8 L1566.7 399.4 L1575.0 405.6 M1535.6 385.0 L1541.1 388.3 L1552.2 387.2 M1530.6 375.6 L1533.3 381.7 L1535.6 385.0 M1533.3 388.3 L1536.7 391.7 L1541.1 388.3 M1525.6 395.0 L1532.2 392.8 L1533.3 388.3 M1524.4 399.4 L1532.2 399.4 L1534.4 397.2 L1536.7 391.7 M1527.8 405.0 L1534.4 403.9 L1536.7 399.4 M1534.4 407.2 L1530.0 409.4 M1534.4 407.2 L1536.7 399.4 L1538.9 392.8 L1541.1 391.7 L1558.9 392.8 M1558.9 392.8 L1557.8 401.7 L1558.9 410.6 L1557.8 415.0 M1558.9 392.8 L1567.8 392.8 M1530.0 409.4 L1545.6 411.7 L1546.7 419.4 L1552.2 418.3 L1556.7 421.7 L1563.3 420.6 M1546.7 419.4 L1546.1 428.3 L1528.9 427.8 M1546.1 428.3 L1552.2 429.4 L1556.7 426.1 L1563.3 423.9 L1566.7 417.2 L1557.8 415.0 M1557.8 401.7 L1566.7 399.4 M1575.0 417.2 L1567.8 419.4 L1566.7 417.2 M1567.8 419.4 L1568.9 426.1 L1565.6 432.8 M1552.2 429.4 L1557.8 437.2 L1562.2 438.3 L1565.6 432.8 M1544.7 428.6 L1542.2 448.3 L1541.1 450.6 L1537.8 452.8 M1542.2 448.3 L1550.0 443.9 L1557.8 437.2 M1562.2 438.3 L1563.9 443.9 M1493.9 377.2 L1493.9 390.6 M1503.3 380.6 L1503.3 389.4 M1508.9 379.4 L1508.9 387.9 M1512.8 377.2 L1512.8 386.7 M1486.7 372.8 L1493.9 377.2 L1503.3 380.6 L1508.9 379.4 L1512.8 377.2 L1515.6 375.6 M1481.1 377.2 L1486.7 378.9 L1493.9 377.2 M1484.4 381.7 L1488.9 382.8 L1493.9 383.9 M1487.8 386.1 L1493.9 387.2 M1635.0 291.1 L1638.9 287.8 L1643.3 297.2 L1648.9 298.3 L1656.7 302.2 M1656.7 302.2 L1661.1 300.0 L1667.8 298.3 L1674.4 298.9 L1675.6 295.6 L1682.2 296.1 L1684.4 298.9 L1692.2 300.6 L1698.9 301.7 L1704.4 300.6 L1706.7 302.8 M1656.7 302.2 L1661.1 307.8 L1663.3 312.8 L1670.0 314.4 L1673.3 318.9 L1682.2 319.4 L1686.7 320.6 L1694.4 318.3 L1698.9 313.9 L1705.6 310.6 L1712.2 307.8 L1711.1 305.6 L1706.7 302.8 M1706.7 302.8 L1710.0 299.4 L1713.3 291.7 L1717.8 290.6 L1723.3 292.8 L1725.6 298.3 L1730.0 301.7 M1700.0 313.9 L1705.1 311.3 L1711.2 307.8 L1712.2 305.7 L1707.1 304.2 L1705.1 305.2 L1707.1 299.6 L1712.7 292.0 L1718.3 290.5 L1722.9 293.0 L1725.0 299.6 L1730.6 305.2 L1736.7 304.7 L1735.1 310.8 L1733.1 314.9 M1659.4 355.0 L1661.1 351.7 L1666.7 352.8 L1667.8 355.6 M1667.8 355.6 L1670.0 351.7 L1672.2 347.2 M1721.9 326.1 L1726.7 325.9 M1720.4 323.3 L1724.4 323.1 M1568.3 346.1 L1571.9 341.9 L1574.7 340.6 L1581.1 345.8 L1586.4 347.2 L1588.9 346.4 M1574.7 340.6 L1577.8 336.7 L1578.9 333.9 L1579.4 332.2 M1569.7 339.4 L1574.4 338.3 L1577.2 335.8 L1577.8 336.7 M1583.3 332.8 L1585.6 335.6 L1588.9 341.1 L1590.0 343.3 M1571.4 330.6 L1575.6 331.7 L1579.4 332.2 L1583.3 332.8 L1584.4 330.0 M1579.4 367.8 L1583.3 369.2 L1587.8 370.0 L1591.1 367.8 L1594.4 366.7 M1594.4 366.7 L1598.9 364.4 L1601.1 363.3 L1601.9 361.7 M1594.4 366.7 L1596.9 368.9 M1597.5 367.2 L1601.7 365.6 L1603.3 362.2 M1572.2 370.0 L1570.0 373.3 L1576.1 373.9 L1578.9 377.8 L1581.1 380.0 M1570.0 373.3 L1567.8 379.4 L1566.1 383.3 M1550.0 360.6 L1568.3 359.4 M1578.9 377.8 L1581.1 381.7 L1583.3 383.3 L1587.8 386.7 L1585.6 390.0" fill="none" stroke="#fff" stroke-width="1.35" stroke-linejoin="round" stroke-linecap="round"/>
<path d="M1347.8 368.6 L1352.2 367.8 M1352.0 367.4 L1354.4 368.3 M1406.7 386.9 L1407.7 392.5 M1410.3 391.5 L1411.3 395.5 M1414.3 390.5 L1415.4 394.0 M1697.2 396.3 L1702.2 395.0 L1706.1 392.4" fill="none" stroke="#fff" stroke-width="1.215" stroke-linejoin="round" stroke-linecap="round"/>
<path d="M1671.7 349.4 L1674.4 351.1 L1673.9 355.6 L1677.2 358.9 L1679.4 362.2 L1685.0 361.1 L1688.3 360.0 L1690.6 358.9" fill="none" stroke="#fff" stroke-width="1.755" stroke-linejoin="round" stroke-linecap="round"/>
<path d="M1387.9 396.1 L1393.0 398.1 L1395.5 395.5 L1398.0 396.1 L1401.1 393.5 L1403.6 394.0 L1405.2 390.5 L1406.2 392.0 L1407.2 395.0 L1411.3 395.5 L1415.4 394.0 L1418.9 392.5 L1421.5 392.0 L1421.5 394.5 L1424.0 395.5 L1425.0 399.1 L1429.6 401.2 L1433.7 401.7 L1436.7 404.2 L1441.8 404.7 L1445.9 407.3 L1447.9 410.3 L1447.4 413.9 L1445.4 418.0 L1441.8 422.0 L1440.3 427.1 L1440.3 432.2 L1438.3 436.3 L1433.7 439.3 L1428.6 441.9 L1424.5 444.9 L1424.0 449.5 L1420.4 454.1 L1416.9 458.2 L1414.3 455.6 L1410.8 452.6 L1413.8 449.5 L1415.9 447.5 L1415.9 443.9 L1413.8 441.4 L1411.3 437.8 L1408.7 435.3 L1408.2 431.2 L1406.2 427.1 L1403.6 424.1 L1400.1 422.0 L1397.0 418.5 L1394.5 415.9 L1390.9 416.4 L1387.9 418.0 L1385.3 415.4 L1382.3 413.9 L1382.3 410.3 L1384.8 408.3 L1388.4 406.8 L1389.9 403.7 L1388.9 399.6Z" fill="#55b16f" stroke="#000" stroke-width="2" stroke-linejoin="round"/>
</g></svg>
<svg style="left:1336px;top:485px" width="22" height="20" viewBox="1336 485 22 20"><path d="M1341.5 487.2 L1346.4 486.4 L1350 488.4 L1353.6 491.6 L1355.2 495.6 L1353 498.2 L1352.4 502.2 L1347.4 503.2 L1343.6 501 L1340.2 500.6 L1339.4 497.4 L1337.8 494.4 L1339.6 491.8 Z" fill="#5b8a52"/></svg>
<span class="t" style="font-size:14.5px;color:#312d2a;letter-spacing:0.302px;left:1363.90px;top:487.30px;">Country, Country<span style="position:relative;top:-1.4px">_</span>continent (Poly…</span>
<span class="t" style="font-size:14.5px;color:#8d8884;letter-spacing:0.247px;left:1364.50px;top:516.00px;">Total Active Projects</span>
<span class="t" style="font-size:14.5px;color:#2b2b2b;left:1520.70px;top:517.40px;">6</span>
<div style="left:1538px;top:519px;width:119.8px;height:11.5px;background:linear-gradient(90deg,#d8f0dc 0%,#a6dbb0 30%,#4fae6b 58%,#2a8a4b 78%,#195a31 100%);"></div>
<span class="t" style="font-size:14.5px;color:#2b2b2b;left:1666.90px;top:517.40px;">6</span>
<div class="fab" style="left:1821.4px;top:454.2px;width:42px;height:85.2px;background:#1f4043;border-radius:21px;box-shadow:1.5px 2px 4px rgba(0,0,0,.35);"></div>
<svg style="left:1826px;top:460px" width="34" height="72" viewBox="1826 460 34 72"><circle cx="1842.4" cy="475.6" r="13.1" fill="none" stroke="#dff3f5" stroke-width="2"/><g fill="#587679"><circle cx="1835.6" cy="504" r="2.8"/><circle cx="1844" cy="504" r="2.8"/><circle cx="1852.4" cy="504" r="2.8"/><circle cx="1835.6" cy="513" r="2.8"/><circle cx="1844" cy="513" r="2.8"/><circle cx="1852.4" cy="513" r="2.8"/><circle cx="1835.6" cy="522" r="2.8"/><circle cx="1844" cy="522" r="2.8"/><circle cx="1852.4" cy="522" r="2.8"/></g></svg>
<span class="t" style="font-size:18.5px;color:#fff;font-weight:700;font-style:italic;font-family:'Liberation Serif', serif;left:1840.03px;top:466.20px;">i</span>
<span class="t" style="font-size:17.6px;color:#161513;letter-spacing:-0.134px;left:32.70px;top:571.80px;overflow:hidden;height:18.80px;">Submission Number, Product ID, Country, Schedule Start Year, Schedule Start Quarter, Total Revenue Forecast, …</span>
<span class="t" style="font-size:14px;color:#3a3632;letter-spacing:0.425px;left:34.00px;top:607.80px;-webkit-text-stroke:0.12px #3a3632;">Project Status:</span>
<span class="t" style="font-size:14px;color:#6f6964;letter-spacing:0.380px;left:134.40px;top:607.80px;">Proposed</span>
<div style="left:29.6px;top:628.4px;width:895.8px;height:66.1px;background:#f5f4f3;border:1px solid #e2e2e0;box-sizing:border-box;"></div>
<div style="left:124.7px;top:629.4px;width:1px;height:65.1px;background:#dcdcda;"></div>
<div style="left:205.9px;top:629.4px;width:1px;height:65.1px;background:#dcdcda;"></div>
<div style="left:281.9px;top:629.4px;width:1px;height:65.1px;background:#dcdcda;"></div>
<div style="left:362.5px;top:629.4px;width:1px;height:65.1px;background:#dcdcda;"></div>
<div style="left:444.8px;top:629.4px;width:1px;height:65.1px;background:#dcdcda;"></div>
<div style="left:542px;top:629.4px;width:1px;height:65.1px;background:#dcdcda;"></div>
<div style="left:646.8px;top:629.4px;width:1px;height:65.1px;background:#dcdcda;"></div>
<div style="left:748.5px;top:629.4px;width:1px;height:65.1px;background:#dcdcda;"></div>
<div style="left:828.5px;top:629.4px;width:1px;height:65.1px;background:#dcdcda;"></div>
<span class="t" style="font-size:13.6px;color:#312d2a;letter-spacing:-0.052px;left:42.50px;top:646.10px;-webkit-text-stroke:0.1px #312d2a;">Submission</span>
<span class="t" style="font-size:13.6px;color:#312d2a;letter-spacing:0.108px;left:52.95px;top:662.95px;-webkit-text-stroke:0.1px #312d2a;">Number</span>
<span class="t" style="font-size:13.6px;color:#312d2a;letter-spacing:0.207px;left:138.15px;top:646.10px;-webkit-text-stroke:0.1px #312d2a;">Product</span>
<span class="t" style="font-size:13.6px;color:#312d2a;left:155.40px;top:662.95px;-webkit-text-stroke:0.1px #312d2a;">ID</span>
<span class="t" style="font-size:13.6px;color:#312d2a;letter-spacing:0.348px;left:219.55px;top:655.00px;-webkit-text-stroke:0.1px #312d2a;">Country</span>
<span class="t" style="font-size:13.6px;color:#312d2a;letter-spacing:-0.241px;left:295.20px;top:638.00px;-webkit-text-stroke:0.1px #312d2a;">Schedule</span>
<span class="t" style="font-size:13.6px;color:#312d2a;letter-spacing:0.370px;left:307.60px;top:654.85px;-webkit-text-stroke:0.1px #312d2a;">Start</span>
<span class="t" style="font-size:13.6px;color:#312d2a;letter-spacing:-0.790px;left:310.15px;top:671.70px;-webkit-text-stroke:0.1px #312d2a;">Year</span>
<span class="t" style="font-size:13.6px;color:#312d2a;letter-spacing:-0.241px;left:376.65px;top:638.00px;-webkit-text-stroke:0.1px #312d2a;">Schedule</span>
<span class="t" style="font-size:13.6px;color:#312d2a;letter-spacing:0.370px;left:389.05px;top:654.85px;-webkit-text-stroke:0.1px #312d2a;">Start</span>
<span class="t" style="font-size:13.6px;color:#312d2a;letter-spacing:0.184px;left:380.55px;top:671.70px;-webkit-text-stroke:0.1px #312d2a;">Quarter</span>
<span class="t" style="font-size:13.6px;color:#312d2a;letter-spacing:0.220px;left:479.10px;top:638.00px;-webkit-text-stroke:0.1px #312d2a;">Total</span>
<span class="t" style="font-size:13.6px;color:#312d2a;letter-spacing:-0.354px;left:467.75px;top:654.85px;-webkit-text-stroke:0.1px #312d2a;">Revenue</span>
<span class="t" style="font-size:13.6px;color:#312d2a;letter-spacing:-0.156px;left:468.00px;top:671.70px;-webkit-text-stroke:0.1px #312d2a;">Forecast</span>
<span class="t" style="font-size:13.6px;color:#312d2a;letter-spacing:0.269px;left:555.75px;top:646.10px;-webkit-text-stroke:0.1px #312d2a;">Budget Total</span>
<span class="t" style="font-size:13.6px;color:#312d2a;letter-spacing:-0.384px;left:569.60px;top:662.95px;-webkit-text-stroke:0.1px #312d2a;">Expense</span>
<span class="t" style="font-size:13.6px;color:#312d2a;letter-spacing:0.291px;left:676.65px;top:638.00px;-webkit-text-stroke:0.1px #312d2a;">Market</span>
<span class="t" style="font-size:13.6px;color:#312d2a;letter-spacing:0.552px;left:660.25px;top:654.85px;-webkit-text-stroke:0.1px #312d2a;">Opportunity</span>
<span class="t" style="font-size:13.6px;color:#312d2a;letter-spacing:-0.404px;left:681.20px;top:671.70px;-webkit-text-stroke:0.1px #312d2a;">Score</span>
<span class="t" style="font-size:13.6px;color:#312d2a;letter-spacing:0.168px;left:761.50px;top:646.10px;-webkit-text-stroke:0.1px #312d2a;">Strategic</span>
<span class="t" style="font-size:13.6px;color:#312d2a;letter-spacing:-0.061px;left:762.05px;top:662.95px;-webkit-text-stroke:0.1px #312d2a;">Fit Score</span>
<span class="t" style="font-size:13.6px;color:#312d2a;letter-spacing:0.239px;left:843.25px;top:638.00px;-webkit-text-stroke:0.1px #312d2a;">Regulatory</span>
<span class="t" style="font-size:13.6px;color:#312d2a;letter-spacing:0.185px;left:842.75px;top:654.85px;-webkit-text-stroke:0.1px #312d2a;">Complexity</span>
<span class="t" style="font-size:13.6px;color:#312d2a;letter-spacing:-0.404px;left:860.25px;top:671.70px;-webkit-text-stroke:0.1px #312d2a;">Score</span>
<svg style="left:190px;top:657px" width="14" height="10" viewBox="190 657 14 10"><path d="M1.1 7.7 L6.55 1.8 L12 7.7 Z" transform="translate(190,657)" fill="#312d2a"/></svg>
<div style="left:30px;top:694px;width:895px;height:187px;background:#e4f1dd;border:2px solid #514d50;box-sizing:border-box;border-top-width:3px;border-bottom-width:3px;box-shadow:inset 0 0 0 1px #eff6eb;"></div>
<div style="left:124.7px;top:694px;width:1px;height:3px;background:#d9d9d9;"></div>
<div style="left:205.9px;top:694px;width:1px;height:3px;background:#d9d9d9;"></div>
<div style="left:281.9px;top:694px;width:1px;height:3px;background:#d9d9d9;"></div>
<div style="left:362.5px;top:694px;width:1px;height:3px;background:#d9d9d9;"></div>
<div style="left:444.8px;top:694px;width:1px;height:3px;background:#d9d9d9;"></div>
<div style="left:542px;top:694px;width:1px;height:3px;background:#d9d9d9;"></div>
<div style="left:646.8px;top:694px;width:1px;height:3px;background:#d9d9d9;"></div>
<div style="left:748.5px;top:694px;width:1px;height:3px;background:#d9d9d9;"></div>
<div style="left:828.5px;top:694px;width:1px;height:3px;background:#d9d9d9;"></div>
<div style="left:124.7px;top:697px;width:1px;height:181.3px;background:#d8e4d2;"></div>
<div style="left:205.9px;top:697px;width:1px;height:181.3px;background:#d8e4d2;"></div>
<div style="left:281.9px;top:697px;width:1px;height:181.3px;background:#d8e4d2;"></div>
<div style="left:362.5px;top:697px;width:1px;height:181.3px;background:#d8e4d2;"></div>
<div style="left:444.8px;top:697px;width:1px;height:181.3px;background:#d8e4d2;"></div>
<div style="left:542px;top:697px;width:1px;height:181.3px;background:#d8e4d2;"></div>
<div style="left:646.8px;top:697px;width:1px;height:181.3px;background:#d8e4d2;"></div>
<div style="left:748.5px;top:697px;width:1px;height:181.3px;background:#d8e4d2;"></div>
<div style="left:828.5px;top:697px;width:1px;height:181.3px;background:#d8e4d2;"></div>
<div style="left:32px;top:724.5px;width:891px;height:1px;background:#d8e4d2;"></div>
<div style="left:32px;top:755.65px;width:891px;height:1px;background:#d8e4d2;"></div>
<div style="left:32px;top:786.8px;width:891px;height:1px;background:#d8e4d2;"></div>
<div style="left:32px;top:817.95px;width:891px;height:1px;background:#d8e4d2;"></div>
<div style="left:32px;top:849.1px;width:891px;height:1px;background:#d8e4d2;"></div>
<span class="t" style="font-size:13.7px;color:#312d2a;letter-spacing:-0.230px;left:41.60px;top:702.40px;">CS00124</span>
<span class="t" style="font-size:13.7px;color:#312d2a;letter-spacing:0.036px;left:137.40px;top:702.40px;">FIT5024</span>
<span class="t" style="font-size:13.7px;color:#312d2a;letter-spacing:-0.187px;left:219.50px;top:702.40px;">Brazil</span>
<span class="t" style="font-size:13.7px;color:#312d2a;letter-spacing:0.082px;left:295.60px;top:702.40px;">2022</span>
<span class="t" style="font-size:13.7px;color:#312d2a;left:424.57px;top:702.40px;">3</span>
<span class="t" style="font-size:13.7px;color:#312d2a;letter-spacing:0.215px;left:471.20px;top:702.40px;">$266,405</span>
<span class="t" style="font-size:13.7px;color:#312d2a;letter-spacing:0.232px;left:564.10px;top:702.40px;">$44,539.00</span>
<span class="t" style="font-size:13.7px;color:#312d2a;left:728.17px;top:702.40px;">2</span>
<span class="t" style="font-size:13.7px;color:#312d2a;left:808.77px;top:702.40px;">1</span>
<span class="t" style="font-size:13.7px;color:#312d2a;left:903.58px;top:702.40px;">2</span>
<span class="t" style="font-size:13.7px;color:#312d2a;letter-spacing:-0.230px;left:41.60px;top:733.55px;">CS00221</span>
<span class="t" style="font-size:13.7px;color:#312d2a;letter-spacing:0.036px;left:137.40px;top:733.55px;">FIT5121</span>
<span class="t" style="font-size:13.7px;color:#312d2a;letter-spacing:-0.187px;left:219.50px;top:733.55px;">Brazil</span>
<span class="t" style="font-size:13.7px;color:#312d2a;letter-spacing:0.082px;left:295.60px;top:733.55px;">2022</span>
<span class="t" style="font-size:13.7px;color:#312d2a;left:424.57px;top:733.55px;">4</span>
<span class="t" style="font-size:13.7px;color:#312d2a;letter-spacing:0.215px;left:471.20px;top:733.55px;">$282,168</span>
<span class="t" style="font-size:13.7px;color:#312d2a;letter-spacing:0.317px;left:555.40px;top:733.55px;">$101,430.00</span>
<span class="t" style="font-size:13.7px;color:#312d2a;left:728.17px;top:733.55px;">3</span>
<span class="t" style="font-size:13.7px;color:#312d2a;left:808.77px;top:733.55px;">1</span>
<span class="t" style="font-size:13.7px;color:#312d2a;left:903.58px;top:733.55px;">2</span>
<span class="t" style="font-size:13.7px;color:#312d2a;letter-spacing:-0.230px;left:41.60px;top:764.70px;">CS00237</span>
<span class="t" style="font-size:13.7px;color:#312d2a;letter-spacing:0.036px;left:137.40px;top:764.70px;">FIT5137</span>
<span class="t" style="font-size:13.7px;color:#312d2a;letter-spacing:-0.187px;left:219.50px;top:764.70px;">Brazil</span>
<span class="t" style="font-size:13.7px;color:#312d2a;letter-spacing:0.082px;left:295.60px;top:764.70px;">2022</span>
<span class="t" style="font-size:13.7px;color:#312d2a;left:424.57px;top:764.70px;">3</span>
<span class="t" style="font-size:13.7px;color:#312d2a;letter-spacing:0.165px;left:459.80px;top:764.70px;">$1,328,535</span>
<span class="t" style="font-size:13.7px;color:#312d2a;letter-spacing:0.317px;left:555.40px;top:764.70px;">$239,716.00</span>
<span class="t" style="font-size:13.7px;color:#312d2a;left:728.17px;top:764.70px;">5</span>
<span class="t" style="font-size:13.7px;color:#312d2a;left:808.77px;top:764.70px;">1</span>
<span class="t" style="font-size:13.7px;color:#312d2a;left:903.58px;top:764.70px;">4</span>
<span class="t" style="font-size:13.7px;color:#312d2a;letter-spacing:-0.230px;left:41.60px;top:795.85px;">CS00241</span>
<span class="t" style="font-size:13.7px;color:#312d2a;letter-spacing:0.036px;left:137.40px;top:795.85px;">FIT5141</span>
<span class="t" style="font-size:13.7px;color:#312d2a;letter-spacing:-0.187px;left:219.50px;top:795.85px;">Brazil</span>
<span class="t" style="font-size:13.7px;color:#312d2a;letter-spacing:0.082px;left:295.60px;top:795.85px;">2022</span>
<span class="t" style="font-size:13.7px;color:#312d2a;left:424.57px;top:795.85px;">3</span>
<span class="t" style="font-size:13.7px;color:#312d2a;letter-spacing:0.165px;left:459.80px;top:795.85px;">$1,406,214</span>
<span class="t" style="font-size:13.7px;color:#312d2a;letter-spacing:0.317px;left:555.40px;top:795.85px;">$135,508.00</span>
<span class="t" style="font-size:13.7px;color:#312d2a;left:728.17px;top:795.85px;">1</span>
<span class="t" style="font-size:13.7px;color:#312d2a;left:808.77px;top:795.85px;">3</span>
<span class="t" style="font-size:13.7px;color:#312d2a;left:903.58px;top:795.85px;">5</span>
<span class="t" style="font-size:13.7px;color:#312d2a;letter-spacing:-0.230px;left:41.60px;top:827.50px;">CS00246</span>
<span class="t" style="font-size:13.7px;color:#312d2a;letter-spacing:0.036px;left:137.40px;top:827.50px;">FIT5146</span>
<span class="t" style="font-size:13.7px;color:#312d2a;letter-spacing:-0.187px;left:219.50px;top:827.50px;">Brazil</span>
<span class="t" style="font-size:13.7px;color:#312d2a;letter-spacing:0.082px;left:295.60px;top:827.50px;">2022</span>
<span class="t" style="font-size:13.7px;color:#312d2a;left:424.57px;top:827.50px;">4</span>
<span class="t" style="font-size:13.7px;color:#312d2a;letter-spacing:0.215px;left:471.20px;top:827.50px;">$628,030</span>
<span class="t" style="font-size:13.7px;color:#312d2a;letter-spacing:0.317px;left:555.40px;top:827.50px;">$219,800.00</span>
<span class="t" style="font-size:13.7px;color:#312d2a;left:728.17px;top:827.50px;">1</span>
<span class="t" style="font-size:13.7px;color:#312d2a;left:808.77px;top:827.50px;">4</span>
<span class="t" style="font-size:13.7px;color:#312d2a;left:903.58px;top:827.50px;">4</span>
<span class="t" style="font-size:13.7px;color:#312d2a;letter-spacing:-0.230px;left:41.60px;top:858.65px;">CS00310</span>
<span class="t" style="font-size:13.7px;color:#312d2a;letter-spacing:0.036px;left:137.40px;top:858.65px;">FIT5210</span>
<span class="t" style="font-size:13.7px;color:#312d2a;letter-spacing:-0.187px;left:219.50px;top:858.65px;">Brazil</span>
<span class="t" style="font-size:13.7px;color:#312d2a;letter-spacing:0.082px;left:295.60px;top:858.65px;">2022</span>
<span class="t" style="font-size:13.7px;color:#312d2a;left:424.57px;top:858.65px;">3</span>
<span class="t" style="font-size:13.7px;color:#312d2a;letter-spacing:0.165px;left:459.80px;top:858.65px;">$1,078,012</span>
<span class="t" style="font-size:13.7px;color:#312d2a;letter-spacing:0.317px;left:555.40px;top:858.65px;">$279,270.00</span>
<span class="t" style="font-size:13.7px;color:#312d2a;left:728.17px;top:858.65px;">3</span>
<span class="t" style="font-size:13.7px;color:#312d2a;left:808.77px;top:858.65px;">4</span>
<span class="t" style="font-size:13.7px;color:#312d2a;left:903.58px;top:858.65px;">2</span>
<span class="t" style="font-size:17.6px;color:#161513;letter-spacing:-0.189px;left:961.90px;top:571.60px;overflow:hidden;height:18.80px;">Schedule Launch Date, Product ID, Submission Number, Schedule Start Year</span>
<span class="t" style="font-size:14px;color:#3a3632;letter-spacing:0.382px;left:962.70px;top:608.00px;-webkit-text-stroke:0.12px #3a3632;">Project Status:</span>
<span class="t" style="font-size:14px;color:#6f6964;letter-spacing:0.295px;left:1063.30px;top:608.00px;">Proposed</span>
<div class="timeline" style="left:955px;top:628px;width:898.4px;height:440px;background:#e3f2dc;border:1px solid #e1e4de;box-sizing:border-box;"></div>
<div style="left:955px;top:628px;width:898.4px;height:3px;background:#e7eae3;"></div>
<div style="left:985px;top:631px;width:1px;height:436px;background:#d2e3ca;"></div>
<span class="t" style="font-size:14px;color:#223322;letter-spacing:-0.152px;left:976.60px;top:659.30px;transform-origin:0.00px 13.00px;transform:rotate(-90deg);">2022</span>
<div style="left:1010.8px;top:631px;width:821.2px;height:389.4px;background:#f8f9f8;"></div>
<div style="left:1010.8px;top:1020.4px;width:821.2px;height:27.4px;background:#f0f0f0;"></div>
<div style="left:1055.7px;top:1021.4px;width:1.2px;height:26.4px;background:#d6d6d6;"></div>
<div style="left:1281.8px;top:1021.4px;width:1.2px;height:26.4px;background:#d6d6d6;"></div>
<div style="left:1502.4px;top:1021.4px;width:1.2px;height:26.4px;background:#d6d6d6;"></div>
<div style="left:1726px;top:1021.4px;width:1.2px;height:26.4px;background:#d6d6d6;"></div>
<div style="left:1840px;top:631px;width:4.2px;height:430px;background:#979c98;"></div>
<div style="left:1011px;top:1055.8px;width:830px;height:4px;background:#979c98;"></div>
<svg style="left:1011px;top:631px" width="821" height="390" viewBox="1011 631 821 390"><path d="M1282 631 V806" stroke="#b4b4b4" stroke-width="1.2" stroke-dasharray="3.2 4.3" fill="none"/><path d="M1390.1 788.2 V1020.6" stroke="#000" stroke-width="2.6" fill="none"/><path d="M1282 852.2 V1020.6" stroke="#000" stroke-width="2.6" fill="none"/><path d="M1201.1 916.2 V1020.6" stroke="#000" stroke-width="2.6" fill="none"/><path d="M1053.5 980 V1020.6" stroke="#000" stroke-width="2.6" fill="none"/><path d="M1326.1 980 V1020.6" stroke="#000" stroke-width="2.6" fill="none"/><path d="M1564.2 980 V1020.6" stroke="#000" stroke-width="2.6" fill="none"/><path d="M1366.5 742.5 H1586.7 V787.9 H1397.7 L1390.1 795.1 L1382.5 787.9 H1366.5 Z" fill="#fff" stroke="#000" stroke-width="2.55" stroke-linejoin="miter"/><path d="M1258.4 806.5 H1478.6 V851.9 H1289.6 L1282 859.1 L1274.4 851.9 H1258.4 Z" fill="#fff" stroke="#000" stroke-width="2.55" stroke-linejoin="miter"/><path d="M1177.5 870.5 H1397.7 V915.9 H1208.7 L1201.1 923.1 L1193.5 915.9 H1177.5 Z" fill="#fff" stroke="#000" stroke-width="2.55" stroke-linejoin="miter"/><path d="M1029.9 934.3 H1250.1 V979.7 H1061.1 L1053.5 986.9 L1045.9 979.7 H1029.9 Z" fill="#fff" stroke="#000" stroke-width="2.55" stroke-linejoin="miter"/><path d="M1302.5 934.3 H1522.7 V979.7 H1333.7 L1326.1 986.9 L1318.5 979.7 H1302.5 Z" fill="#fff" stroke="#000" stroke-width="2.55" stroke-linejoin="miter"/><path d="M1540.6 934.3 H1760.8 V979.7 H1571.8 L1564.2 986.9 L1556.6 979.7 H1540.6 Z" fill="#fff" stroke="#000" stroke-width="2.55" stroke-linejoin="miter"/></svg>
<span class="t" style="font-size:13.6px;color:#4a4a4a;font-weight:700;letter-spacing:-0.065px;left:1372.40px;top:750.50px;">CS00221</span>
<span class="t" style="font-size:13.6px;color:#333;letter-spacing:0.337px;left:1372.40px;top:767.50px;">02/14/2018 Product ID : FIT5121</span>
<span class="t" style="font-size:13.6px;color:#4a4a4a;font-weight:700;letter-spacing:-0.065px;left:1264.30px;top:814.50px;">CS00241</span>
<span class="t" style="font-size:13.6px;color:#333;letter-spacing:0.337px;left:1264.30px;top:831.50px;">01/01/2018 Product ID : FIT5141</span>
<span class="t" style="font-size:13.6px;color:#4a4a4a;font-weight:700;letter-spacing:-0.065px;left:1183.40px;top:878.50px;">CS00124</span>
<span class="t" style="font-size:13.6px;color:#333;letter-spacing:0.371px;left:1183.40px;top:895.50px;">11/29/2017 Product ID : FIT5024</span>
<span class="t" style="font-size:13.6px;color:#4a4a4a;font-weight:700;letter-spacing:-0.065px;left:1035.80px;top:942.30px;">CS00310</span>
<span class="t" style="font-size:13.6px;color:#333;letter-spacing:0.337px;left:1035.80px;top:959.30px;">09/30/2017 Product ID : FIT5210</span>
<span class="t" style="font-size:13.6px;color:#4a4a4a;font-weight:700;letter-spacing:-0.065px;left:1308.40px;top:942.30px;">CS00237</span>
<span class="t" style="font-size:13.6px;color:#333;letter-spacing:0.337px;left:1308.40px;top:959.30px;">01/19/2018 Product ID : FIT5137</span>
<span class="t" style="font-size:13.6px;color:#4a4a4a;font-weight:700;letter-spacing:-0.065px;left:1546.50px;top:942.30px;">CS00246</span>
<span class="t" style="font-size:13.6px;color:#333;letter-spacing:0.337px;left:1546.50px;top:959.30px;">04/26/2018 Product ID : FIT5146</span>
<span class="t" style="font-size:13.6px;color:#333;font-weight:700;letter-spacing:0.350px;left:1288.70px;top:1003.80px;">2018</span>
<span class="t" style="font-size:13.6px;color:#333;letter-spacing:0.107px;left:1144.60px;top:1028.90px;">October</span>
<span class="t" style="font-size:13.6px;color:#333;letter-spacing:0.021px;left:1368.15px;top:1028.90px;">January</span>
<span class="t" style="font-size:13.6px;color:#333;letter-spacing:0.224px;left:1600.75px;top:1028.90px;">April</span>
<div class="chat" style="left:1793px;top:1003px;width:77px;height:77px;background:#c6513b;"></div>
<svg style="left:1800px;top:1015px" width="64" height="52" viewBox="1800 1015 64 52"><path d="M1809 1021.4 H1854 Q1858 1021.4 1858 1025.4 V1051 Q1858 1055 1854 1055 H1816.6 L1808.6 1062.4 Q1805.2 1064.6 1805.2 1060.6 V1025.4 Q1805.2 1021.4 1809 1021.4 Z" fill="#fff"/><g fill="#c6513b"><circle cx="1817" cy="1036.8" r="4.7"/><circle cx="1831.4" cy="1036.8" r="4.7"/><circle cx="1845.8" cy="1036.8" r="4.7"/></g></svg>
</body></html>
